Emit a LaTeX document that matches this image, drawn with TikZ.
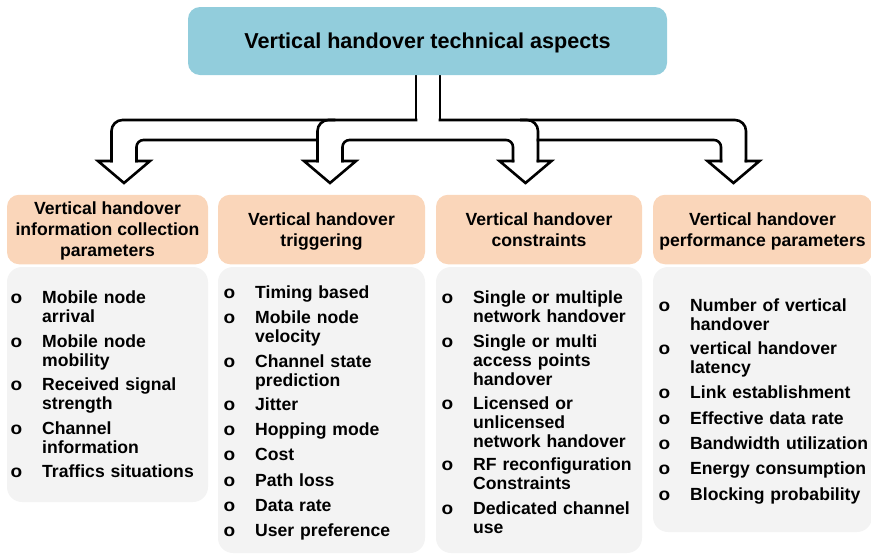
\documentclass[tikz,border=0pt]{standalone}
\usepackage{fontspec}
\setmainfont{Liberation Sans}
\usetikzlibrary{calc}

\definecolor{vhblue}{HTML}{92CDDC}
\definecolor{vhpeach}{HTML}{FAD6BA}
\definecolor{vhgrey}{HTML}{F3F3F3}

\tikzset{
  topbox/.style={rectangle, rounded corners=12pt, fill=vhblue, inner sep=0pt, text depth=0pt,
    font=\fontsize{21.6}{26}\selectfont\bfseries},
  hdbox/.style={rectangle, rounded corners=12pt, fill=vhpeach, inner sep=0pt, text depth=0pt,
    minimum height=69.5pt, align=center, font=\fontsize{17.6}{21}\selectfont\bfseries},
  lsbox/.style={rectangle, rounded corners=15pt, fill=vhgrey, inner sep=0pt},
  vhitem/.style={anchor=base west, inner sep=0pt, text width=200pt, align=left,
    font=\fontsize{17.6}{19}\selectfont\bfseries},
  arrowline/.style={line width=2.6pt, line cap=rect, line join=miter},
}
\newcommand{\vhbul}{\llap{\scalebox{1.08}[1]{o}\hspace{20pt}}}

\begin{document}
\begin{tikzpicture}[x=1pt,y=-1pt]
    \useasboundingbox (0,0) rectangle (871,555);
    \clip (0,0) rectangle (871,555);

    % Heights of the arrow parts
    \def\ys{75}    % stem top
    \def\yo{120}   % outer bend
    \def\yi{140}   % inner bend
    \def\yb{161}   % head base
    \def\yt{183}   % tip
    \def\hw{12.5}  % half width of shaft
    \def\aw{26}    % half width of head
    \def\cS{428}   % stem centre
    \def\cA{124}
    \def\cB{330}
    \def\cC{525.5}
    \def\cD{733.5}

    % Draw the branching hollow arrow
    \draw[arrowline] ({\cS-12},\ys) -- ({\cS-12},\yo);
    \draw[arrowline] ({\cS+12},\ys) -- ({\cS+12},\yo);
    \draw[arrowline,rounded corners=11pt] ({\cS-12},\yo) -- ({\cA-\hw},\yo) -- ({\cA-\hw},\yb);
    \draw[arrowline,rounded corners=7pt] ({\cA+\hw},\yb) -- ({\cA+\hw},\yi) -- ({\cB-\hw},\yi);
    \draw[arrowline,rounded corners=11pt] ({\cB+4},\yo) -- ({\cB-\hw},\yo) -- ({\cB-\hw},\yb);
    \draw[arrowline,rounded corners=7pt] ({\cB+\hw},\yb) -- ({\cB+\hw},\yi) -- ({\cC-\hw},\yi) -- ({\cC-\hw},\yb);
    \draw[arrowline,rounded corners=11pt] ({\cC+\hw},\yb) -- ({\cC+\hw},\yo) -- ({\cC-4},\yo);
    \draw[arrowline,rounded corners=11pt] ({\cS+12},\yo) -- ({\cD+\hw},\yo) -- ({\cD+\hw},\yb);
    \draw[arrowline,rounded corners=7pt] ({\cD-\hw},\yb) -- ({\cD-\hw},\yi) -- ({\cC+\hw},\yi);
    \foreach \c in {\cA,\cB,\cC,\cD}
        \draw[arrowline] ({\c-\hw},\yb) -- ({\c-\aw},\yb) -- (\c,\yt) -- ({\c+\aw},\yb) -- ({\c+\hw},\yb);

    % Title box
    \node[topbox, minimum width=479pt, minimum height=68pt] (top) at (427.5,41) {Vertical handover technical aspects};

    % Header boxes
    \node[hdbox, minimum width=201pt] (hd1) at (107.5,229.5) {Vertical handover\\information collection\\parameters};
    \node[hdbox, minimum width=207pt] (hd2) at (321.5,229.5) {Vertical handover\\triggering};
    \node[hdbox, minimum width=206pt] (hd3) at (539,229.5) {Vertical handover\\constraints};
    \node[hdbox, minimum width=219pt] (hd4) at (762.5,229.5) {Vertical handover\\performance parameters};

    % List boxes
    \node[lsbox, minimum width=201pt, minimum height=235pt] (ls1) at (107.5,384.5) {};
    \node[lsbox, minimum width=207pt, minimum height=286pt] (ls2) at (321.5,410) {};
    \node[lsbox, minimum width=206pt, minimum height=286pt] (ls3) at (539,410) {};
    \node[lsbox, minimum width=219pt, minimum height=265pt] (ls4) at (762.5,399.5) {};

    % Information collection parameters
    \node[vhitem] (ia1) at (42,303.5) {\vhbul Mobile node\\arrival};
    \node[vhitem] (ia2) at (42,347.5) {\vhbul Mobile node\\mobility};
    \node[vhitem] (ia3) at (42,390.5) {\vhbul Received signal\\strength};
    \node[vhitem] (ia4) at (42,434.5) {\vhbul Channel\\information};
    \node[vhitem] (ia5) at (42,477.5) {\vhbul Traffics situations};

    % Triggering
    \node[vhitem] (ib1) at (255,298) {\vhbul Timing based};
    \node[vhitem] (ib2) at (255,323) {\vhbul Mobile node\\velocity};
    \node[vhitem] (ib3) at (255,367) {\vhbul Channel state\\prediction};
    \node[vhitem] (ib4) at (255,410.5) {\vhbul Jitter};
    \node[vhitem] (ib5) at (255,435.5) {\vhbul Hopping mode};
    \node[vhitem] (ib6) at (255,460.7) {\vhbul Cost};
    \node[vhitem] (ib7) at (255,486) {\vhbul Path loss};
    \node[vhitem] (ib8) at (255,511.7) {\vhbul Data rate};
    \node[vhitem] (ib9) at (255,536.7) {\vhbul User preference};

    % Constraints
    \node[vhitem] (ic1) at (473,303.5) {\vhbul Single or multiple\\network handover};
    \node[vhitem] (ic2) at (473,347.5) {\vhbul Single or multi\\access points\\handover};
    \node[vhitem] (ic3) at (473,409.5) {\vhbul Licensed or\\unlicensed\\network handover};
    \node[vhitem] (ic4) at (473,470.5) {\vhbul RF reconfiguration\\Constraints};
    \node[vhitem] (ic5) at (473,514.5) {\vhbul Dedicated channel\\use};

    % Performance parameters
    \node[vhitem] (id1) at (690,311.5) {\vhbul Number of vertical\\handover};
    \node[vhitem] (id2) at (690,354.5) {\vhbul vertical handover\\latency};
    \node[vhitem] (id3) at (690,398.5) {\vhbul Link establishment};
    \node[vhitem] (id4) at (690,424.5) {\vhbul Effective data rate};
    \node[vhitem] (id5) at (690,449.5) {\vhbul Bandwidth utilization};
    \node[vhitem] (id6) at (690,474.5) {\vhbul Energy consumption};
    \node[vhitem] (id7) at (690,500.5) {\vhbul Blocking probability};
\end{tikzpicture}
\end{document}
